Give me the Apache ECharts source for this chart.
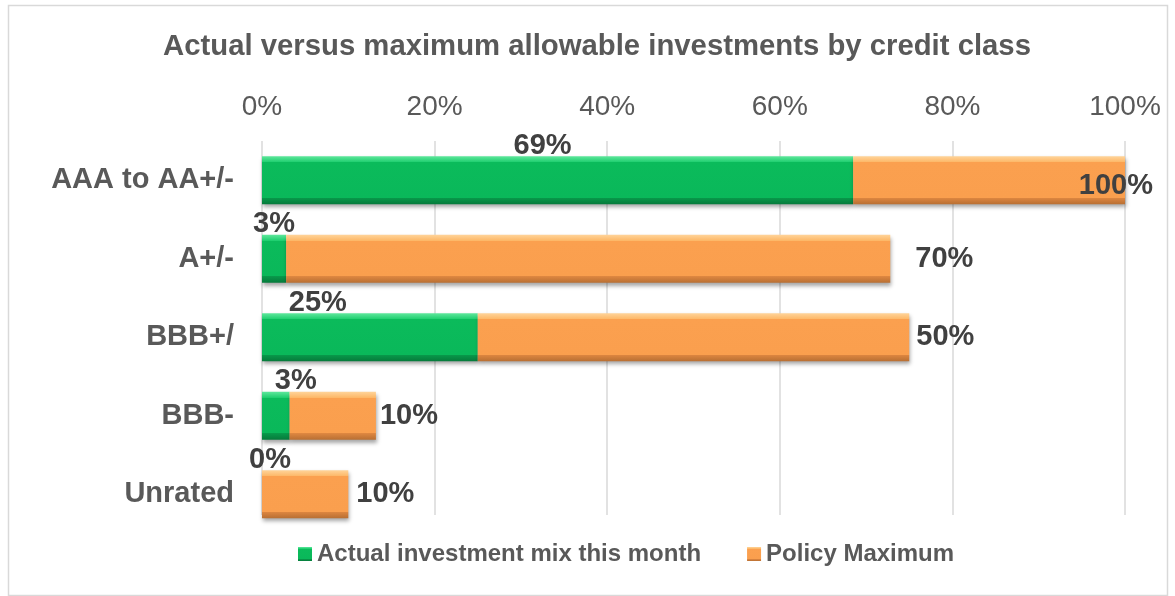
<!DOCTYPE html>
<html><head><meta charset="utf-8">
<script src="https://cdn.jsdelivr.net/npm/echarts@6/dist/echarts.min.js"></script>
<style>html,body{margin:0;padding:0;background:#fff}#c{width:1175px;height:596px}</style>
</head><body><div id="c"></div>
<script>
// ---- data ----
const titleText = 'Actual versus maximum allowable investments by credit class';
const categories = ['AAA to AA+/-', 'A+/-', 'BBB+/', 'BBB-', 'Unrated'];
const actualMix = [68.5, 2.8, 25, 3.2, 0];
const policyMax = [100, 70, 50, 10, 10];
const xTicks = [0, 20, 40, 60, 80, 100];
const seriesNames = ['Actual investment mix this month', 'Policy Maximum'];

// ---- styling / layout ----
const FONT = "'Liberation Sans', Arial, Helvetica, sans-serif";
const greenFill = new echarts.graphic.LinearGradient(0, 0, 0, 1, [
  { offset: 0, color: '#5fe79c' }, { offset: 0.12, color: '#20cf70' },
  { offset: 0.13, color: '#0bbb5b' }, { offset: 0.86, color: '#0ab85a' },
  { offset: 0.87, color: '#08984a' }, { offset: 1, color: '#067a3b' }
]);
const orangeFill = new echarts.graphic.LinearGradient(0, 0, 0, 1, [
  { offset: 0, color: '#ffd49a' }, { offset: 0.12, color: '#fdb868' },
  { offset: 0.13, color: '#fba04f' }, { offset: 0.86, color: '#fa9f4e' },
  { offset: 0.87, color: '#dd8640' }, { offset: 1, color: '#b86f33' }
]);
const shadow = { shadowColor: 'rgba(0,0,0,0.35)', shadowBlur: 4, shadowOffsetY: 3, shadowOffsetX: 1 };

const greenNudge = [[-15, 0], [0, 0], [-52, 0], [20, 0], [8, 0]];
const orangeNudge = [[33, 6], [20, 0], [2, 0], [-1, 0], [3, 0]];

const labelStyle = { fontFamily: FONT, fontSize: 29, fontWeight: 'bold', color: '#404040' };
const pct = p => Math.round(p.value) + '%';

const greenData = actualMix.map((v, i) => ({
  value: v,
  label: { offset: greenNudge[i] }
}));
const orangeData = policyMax.map((v, i) => ({
  value: v,
  label: i === 0 ? { position: 'insideRight', offset: orangeNudge[i] } : { offset: orangeNudge[i] }
}));

const xMin = xTicks[0], xMax = xTicks[xTicks.length - 1], xStep = xTicks[1] - xTicks[0];

const chart = echarts.init(document.getElementById('c'));
chart.setOption({
  animation: false,
  backgroundColor: '#ffffff',
  title: {
    text: titleText, left: 592, top: 27, textAlign: 'center',
    textStyle: { fontFamily: FONT, fontSize: 29.3, fontWeight: 'bold', color: '#595959' }
  },
  graphic: [{
    type: 'rect', silent: true, z: -10,
    shape: { x: 8.5, y: 5.5, width: 1159, height: 590 },
    style: { fill: 'none', stroke: '#d9d9d9', lineWidth: 1.5 }
  }],
  legend: {
    left: 293, top: 537, itemWidth: 14, itemHeight: 14, itemGap: 46,
    icon: 'rect',
    textStyle: { fontFamily: FONT, fontSize: 24, fontWeight: 'bold', color: '#595959' },
    data: seriesNames
  },
  grid: [
    { left: 262, right: 50, top: 141, bottom: 62.5, containLabel: false },
    { left: 262, right: 50, top: 141, bottom: 81, containLabel: false }
  ],
  xAxis: [
    { gridIndex: 0, type: 'value', min: xMin, max: xMax, interval: xStep, show: false,
      splitLine: { show: false } },
    { gridIndex: 1, type: 'value', position: 'top', min: xMin, max: xMax, interval: xStep,
      axisLine: { show: false }, axisTick: { show: false },
      splitLine: { show: true, lineStyle: { color: '#d9d9d9', width: 1.5 } },
      axisLabel: { formatter: '{value}%', margin: 20, fontFamily: FONT, fontSize: 28, color: '#595959' } }
  ],
  yAxis: [
    { gridIndex: 0, type: 'category', inverse: true, data: categories,
      axisLine: { show: false }, axisTick: { show: false }, splitLine: { show: false },
      axisLabel: { margin: 28, fontFamily: FONT, fontSize: 29, fontWeight: 'bold', color: '#595959' } },
    { gridIndex: 1, type: 'category', inverse: true, data: categories, show: false }
  ],
  series: [
    {
      name: seriesNames[0], type: 'bar', stack: 'total', barWidth: 48,
      xAxisIndex: 0, yAxisIndex: 0,
      itemStyle: Object.assign({ color: greenFill }, shadow),
      label: Object.assign({ show: true, position: 'top', distance: -4, formatter: pct }, labelStyle),
      data: greenData
    },
    {
      name: seriesNames[1], type: 'bar', stack: 'total', barWidth: 48,
      xAxisIndex: 0, yAxisIndex: 0,
      itemStyle: Object.assign({ color: orangeFill }, shadow),
      label: Object.assign({ show: true, position: 'right', distance: 5, formatter: pct }, labelStyle),
      data: orangeData
    }
  ]
});
</script></body></html>
